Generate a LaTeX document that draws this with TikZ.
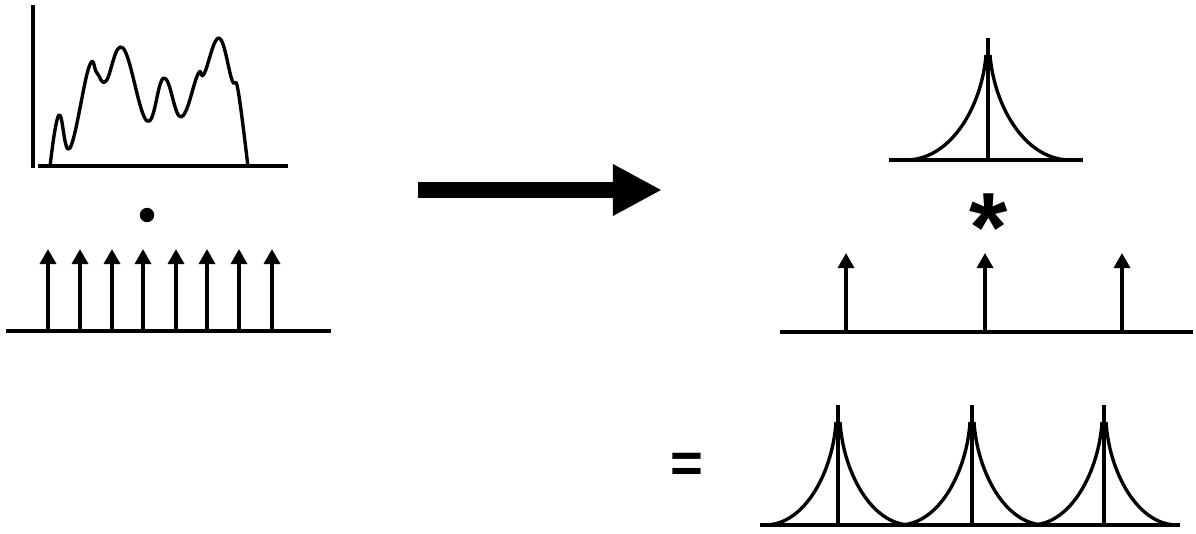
\documentclass[tikz,border=0pt]{standalone}
\usepackage{fontspec}
\setmainfont{Liberation Sans}
\usetikzlibrary{arrows.meta}
\tikzset{
	ln/.style={line width=2.4pt},
	spike/.style={ln,-{Triangle[length=0.375cm,width=0.4cm]}},
	sym/.style={inner sep=0pt,anchor=north},
}
\begin{document}
\begin{tikzpicture}[x=0.025cm,y=-0.025cm,line join=round]
	\useasboundingbox (0,0) rectangle (1196,533);
	% signal with its axes
	\coordinate (yTop) at (33,5);
	\coordinate (yBot) at (33,168);
	\coordinate (xL) at (38,166);
	\coordinate (xR) at (288,166);
	\draw[ln] (yTop)--(yBot);
	\draw[ln] (xL)--(xR);
	\draw[ln] plot[smooth,tension=0.7] coordinates{(50,167) (59,115) (70,148) (89,67) (97,73) (106,81) (123,48) (147,121) (164,78) (181,117) (198,74) (204,74) (219,38) (232,80) (238,90) (248,167)};
	\node[circle,fill,inner sep=0pt,minimum size=0.36cm] (dot) at (147,215) {};
	% comb
	\coordinate (combL) at (6,331);
	\coordinate (combR) at (331,331);
	\draw[ln] (combL)--(combR);
	\foreach \x [count=\i] in {48,80,112,143,176,207,239,272}{
		\coordinate (s\i) at (\x,330);
		\coordinate (t\i) at (\x,249);
		\draw[spike] (s\i)--(t\i);
	}
	% big arrow
	\coordinate (bigA) at (418,190);
	\coordinate (bigB) at (662,190);
	\draw[line width=0.4cm,-{Triangle[length=1.225cm,width=1.2cm]}] (bigA)--(bigB);
	% transform of the signal
	\coordinate (pkTop) at (988,38);
	\coordinate (pkBot) at (988,160);
	\coordinate (pkL) at (889,160);
	\coordinate (pkR) at (1083,160);
	\draw[ln] (pkL)--(pkR);
	\draw[ln] (pkTop)--(pkBot);
	\draw[ln] (907,160) .. controls (952,159) and (982,105) .. (986,55);
	\draw[ln] (990,55) .. controls (994,105) and (1024,159) .. (1069,160);
	\node[sym,font=\bfseries\fontsize{70}{72}\selectfont] (star) at (989,193) {*};
	% transform of the comb
	\coordinate (tcL) at (780,332);
	\coordinate (tcR) at (1193,332);
	\draw[ln] (tcL)--(tcR);
	\foreach \x [count=\i] in {846,985,1122}{
		\coordinate (u\i) at (\x,331);
		\coordinate (v\i) at (\x,253);
		\draw[spike] (u\i)--(v\i);
	}
	% result
	\node[sym,font=\bfseries\fontsize{40}{42}\selectfont] (eq) at (687,453) {=};
	\coordinate (resL) at (760,525);
	\coordinate (resR) at (1180,525);
	\draw[ln] (resL)--(resR);
	\foreach \c in {838,972,1104}{
		\draw[ln] (\c,405)--(\c,525);
		\draw[ln] (\c-72,525) .. controls (\c-32,524) and (\c-5,470) .. (\c-2,422);
		\draw[ln] (\c+2,422) .. controls (\c+5,470) and (\c+32,524) .. (\c+72,525);
	}
\end{tikzpicture}
\end{document}
